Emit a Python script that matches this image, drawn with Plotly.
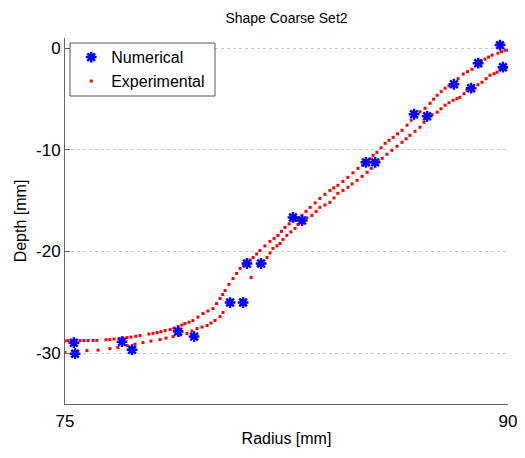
import plotly.graph_objects as go

# Numerical results (radius mm, depth mm)
num_radius = [75.30, 75.34, 76.93, 77.27, 78.83, 79.37, 80.59, 81.03, 81.16, 81.64,
              82.72, 83.03, 85.19, 85.50, 86.82, 87.26, 88.17, 88.75, 88.99, 89.83, 89.73]
num_depth = [-28.97, -30.05, -28.87, -29.66, -27.88, -28.37, -25.02, -25.02, -21.18, -21.18,
             -16.65, -16.95, -11.23, -11.23, -6.50, -6.70, -3.55, -3.94, -1.48, -1.87, 0.30]

# Experimental profile, first scan
exp1_radius = [75.00, 75.10, 75.24, 75.37, 75.51, 75.64, 75.78, 75.95, 76.08, 76.39,
               76.52, 76.66, 76.83, 76.96, 77.10, 77.23, 77.40, 77.54, 77.84, 77.98,
               78.12, 78.25, 78.39, 78.56, 78.69, 78.83, 78.96, 79.06, 79.20, 79.33,
               79.50, 79.67, 79.84, 80.01, 80.13, 80.25, 80.34, 80.42, 80.55, 80.69,
               80.81, 80.93, 81.05, 81.16, 81.27, 81.37, 81.49, 81.60, 81.77, 81.94,
               82.08, 82.21, 82.33, 82.45, 82.59, 82.72, 82.87, 83.02, 83.16, 83.30,
               83.47, 83.63, 83.80, 83.97, 84.10, 84.24, 84.41, 84.58, 84.75, 84.92,
               85.08, 85.23, 85.33, 85.43, 85.56, 85.70, 85.84, 85.97, 86.11, 86.26,
               86.41, 86.58, 86.72, 86.85, 87.02, 87.19, 87.36, 87.48, 87.60, 87.74,
               87.87, 88.00, 88.14, 88.31, 88.48, 88.63, 88.78, 88.98, 89.10, 89.22,
               89.34, 89.46, 89.66, 89.78, 89.90, 90.00]
exp1_depth = [-28.77, -28.77, -28.77, -28.77, -28.77, -28.76, -28.76, -28.75, -28.74, -28.68,
              -28.66, -28.61, -28.57, -28.52, -28.47, -28.42, -28.34, -28.27, -28.12, -28.05,
              -27.97, -27.88, -27.78, -27.68, -27.53, -27.38, -27.23, -27.09, -26.95, -26.79,
              -26.45, -26.10, -25.85, -25.61, -25.12, -24.63, -24.23, -23.84, -23.25, -22.66,
              -22.16, -21.67, -21.38, -21.08, -20.84, -20.59, -20.25, -19.90, -19.45, -19.01,
              -18.71, -18.42, -18.02, -17.63, -17.28, -16.94, -16.69, -16.45, -16.05, -15.66,
              -15.22, -14.78, -14.38, -13.99, -13.74, -13.49, -13.10, -12.71, -12.26, -11.82,
              -11.52, -11.23, -10.88, -10.54, -10.24, -9.80, -9.36, -9.06, -8.77, -8.42,
              -8.08, -7.58, -7.09, -6.60, -6.25, -5.91, -5.42, -5.02, -4.63, -4.28,
              -3.94, -3.70, -3.45, -3.00, -2.56, -2.31, -2.07, -1.58, -1.33, -1.08,
              -0.88, -0.69, -0.49, -0.35, -0.20, -0.20]

# Experimental profile, second scan
exp2_radius = [75.00, 75.37, 75.74, 76.12, 76.52, 76.79, 77.10, 77.37, 77.64, 77.91,
               78.22, 78.42, 78.66, 78.89, 79.13, 79.30, 79.47, 79.64, 79.81, 79.94,
               80.08, 80.25, 80.35, 81.30, 81.54, 81.67, 81.84, 81.94, 82.04, 82.18,
               82.28, 82.38, 82.51, 82.65, 82.79, 82.89, 83.02, 83.19, 83.36, 83.50,
               83.63, 83.80, 83.97, 84.11, 84.24, 84.41, 84.58, 84.72, 84.89, 85.06,
               85.23, 85.37, 85.50, 85.60, 85.74, 85.90, 86.07, 86.24, 86.41, 86.55,
               86.68, 86.85, 87.02, 87.16, 87.29, 87.43, 87.60, 87.73, 87.87, 88.00,
               88.14, 88.27, 88.37, 88.51, 88.61, 88.71, 88.82, 88.98, 89.12, 89.26,
               89.39, 89.53, 89.63, 89.73, 89.83, 89.93]
exp2_depth = [-29.94, -29.85, -29.75, -29.70, -29.55, -29.45, -29.25, -29.11, -28.96, -28.81,
              -28.66, -28.52, -28.37, -28.22, -28.07, -27.83, -27.58, -27.43, -27.28, -27.04,
              -26.79, -26.40, -26.00, -22.56, -21.37, -20.98, -20.59, -20.14, -19.70, -19.45,
              -19.21, -18.81, -18.42, -18.07, -17.73, -17.34, -16.94, -16.70, -16.45, -16.05,
              -15.66, -15.42, -15.17, -14.73, -14.28, -13.99, -13.69, -13.35, -13.00, -12.61,
              -12.21, -11.82, -11.42, -11.13, -10.84, -10.44, -10.05, -9.65, -9.26, -8.91,
              -8.57, -8.18, -7.78, -7.29, -6.80, -6.55, -6.30, -5.96, -5.61, -5.37,
              -5.12, -4.97, -4.83, -4.48, -4.14, -3.99, -3.84, -3.60, -3.35, -3.00,
              -2.66, -2.51, -2.36, -2.12, -1.87, -1.87]

x_ticks = [75, 90]
y_ticks = [0, -10, -20, -30]
y_tick_text = ["0", "-10", "-20", "-30"]

FONT = "Liberation Sans, Arial, sans-serif"

# the page body adds an 8 px offset, so the figure is sized/margined to compensate
W, H = 517, 450

fig = go.Figure()
fig.add_trace(go.Scatter(
    x=exp1_radius + exp2_radius, y=exp1_depth + exp2_depth, mode="markers",
    name="Experimental",
    marker=dict(symbol="square", size=3, color="#ff0000", line=dict(width=0)),
))
fig.add_trace(go.Scatter(
    x=num_radius, y=num_depth, mode="markers", name="Numerical",
    marker=dict(symbol="asterisk", size=9, color="#0000ff",
                line=dict(color="#0000ff", width=2.5)),
))

# compact legend frame (drawn as a shape so it hugs the entries)
fig.add_shape(type="rect", xref="paper", yref="paper",
              x0=0.0113, x1=0.3386, y0=0.8415, y1=0.9863,
              line=dict(color="#555555", width=1), fillcolor="white",
              layer="above")

fig.update_layout(
    width=W, height=H,
    margin=dict(l=57, r=17, t=30, b=54, autoexpand=False),
    paper_bgcolor="white", plot_bgcolor="white",
    font=dict(family=FONT, size=16, color="black"),
    title=dict(text="Shape Coarse Set2", x=0.5, xanchor="center", xref="paper",
               y=1 - 10 / H, yanchor="middle", yref="container",
               font=dict(size=14, family=FONT, color="black")),
    showlegend=True,
    legend=dict(x=0.014, y=0.994, xanchor="left", yanchor="top",
                bgcolor="rgba(0,0,0,0)", borderwidth=0,
                font=dict(size=16, family=FONT), itemsizing="trace",
                traceorder="reversed", tracegroupgap=0),
)
fig.update_xaxes(
    range=[75, 90], tickvals=x_ticks, ticktext=[str(v) for v in x_ticks],
    showline=True, linecolor="#666666", linewidth=1, mirror=False,
    ticks="inside", ticklen=5, tickcolor="#666666",
    showgrid=True, gridcolor="#c8c8c8", griddash="dot", gridwidth=1,
    zeroline=False, tickfont=dict(size=17), ticklabelstandoff=2,
    automargin=False,
    title=dict(text="Radius [mm]", font=dict(size=16), standoff=2),
)
fig.update_yaxes(
    range=[-35, 1], tickvals=y_ticks, ticktext=y_tick_text,
    showline=True, linecolor="#666666", linewidth=1, mirror=False,
    ticks="inside", ticklen=5, tickcolor="#666666",
    showgrid=True, gridcolor="#c8c8c8", griddash="dot", gridwidth=1,
    zeroline=False, tickfont=dict(size=17), automargin=False,
    title=dict(text="Depth [mm]", font=dict(size=16), standoff=5),
)
fig.write_html("out.html")
